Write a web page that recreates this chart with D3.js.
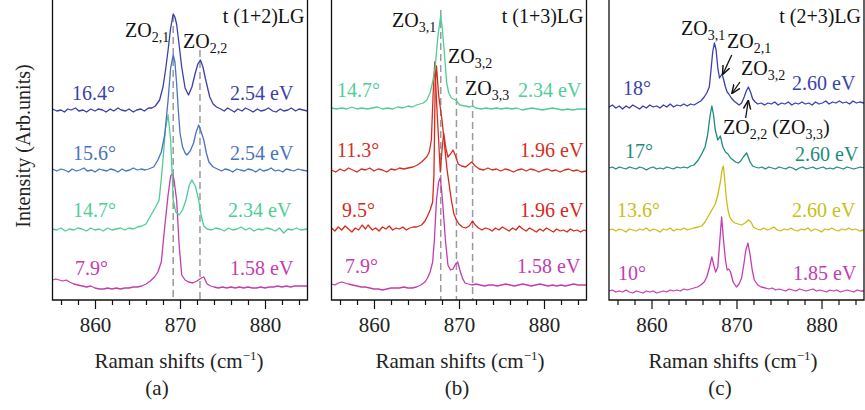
<!DOCTYPE html>
<html>
<head>
<meta charset="utf-8">
<script src="https://cdn.jsdelivr.net/npm/d3@7"></script>
<style>
  body { margin: 0; background: #fff; }
  text { font-family: "Liberation Serif", "Times New Roman", serif; }
</style>
</head>
<body>
<svg id="chart" width="865" height="410"></svg>
<script>
// ---- data (Raman shift in cm^-1, intensity in arbitrary units incl. offset) ----
var shiftDomain = [855, 885];
var majorTicks = [860, 870, 880];
var minorTicks = [856, 858, 862, 864, 866, 868, 872, 874, 876, 878, 882, 884];

var titles = ['t (1+2)LG', 't (1+3)LG', 't (2+3)LG'];
var panelTags = ['(a)', '(b)', '(c)'];

var anglesA = ['16.4°', '15.6°', '14.7°', '7.9°'];
var energiesA = ['2.54 eV', '2.54 eV', '2.34 eV', '1.58 eV'];
var anglesB = ['14.7°', '11.3°', '9.5°', '7.9°'];
var energiesB = ['2.34 eV', '1.96 eV', '1.96 eV', '1.58 eV'];
var anglesC = ['18°', '17°', '13.6°', '10°'];
var energiesC = ['2.60 eV', '2.60 eV', '2.60 eV', '1.85 eV'];

var a164 = [[855,191],[855.5,189],[856,190],[856.4,188],[856.8,191],[857.2,190],[857.7,192],[858.1,189],[858.6,190],[859,188],[859.5,191],[860,189],[860.4,191],[860.9,190],[861.3,188],[861.8,191],[862.2,189],[862.7,192],[863.1,190],[863.6,189],[864,191],[864.5,188],[864.9,190],[865.4,191],[865.8,189],[866.3,192],[866.7,192],[867.1,194],[867.6,200],[868,213],[868.3,230],[868.6,250],[868.9,272],[869.2,286],[869.4,283],[869.6,276],[869.9,255],[870.2,233],[870.6,212],[871,205],[871.4,213],[871.8,227],[872.1,236],[872.4,240],[872.7,233],[873,221],[873.5,203],[873.9,196],[874.3,193],[874.8,191],[875.2,189],[875.6,192],[876,190],[876.4,188],[876.8,191],[877.3,189],[877.7,192],[878.2,190],[878.6,188],[879.1,191],[879.5,189],[880,190],[880.4,192],[880.9,189],[881.3,188],[881.8,191],[882.2,189],[882.7,190],[883.1,192],[883.6,189],[884,191],[884.5,190],[885,189]];
var a156 = [[855,131],[855.5,129],[856,131],[856.4,130],[856.9,128],[857.3,131],[857.8,129],[858.2,130],[858.7,132],[859.1,129],[859.6,130],[860,128],[860.5,131],[860.9,130],[861.4,129],[861.8,131],[862.3,130],[862.7,128],[863.2,131],[863.6,129],[864.1,130],[864.5,132],[865,130],[865.4,131],[865.9,130],[866.3,131],[866.9,133],[867.4,140],[867.8,148],[868.2,165],[868.6,200],[868.9,232],[869.2,245],[869.4,238],[869.6,217],[869.8,190],[870,167],[870.3,153],[870.6,147],[870.8,145],[871.2,149],[871.6,157],[871.9,168],[872.2,175],[872.5,168],[872.8,160],[873.1,147],[873.4,138],[873.9,133],[874.4,131],[874.9,129],[875.3,131],[875.8,130],[876.2,128],[876.7,131],[877.1,130],[877.6,129],[878,131],[878.5,130],[878.9,128],[879.4,131],[879.8,129],[880.3,130],[880.7,132],[881.2,129],[881.6,130],[882.1,128],[882.5,131],[883,130],[883.4,129],[883.9,131],[884.3,130],[885,129]];
var a147 = [[855,71],[855.5,70],[856,72],[856.5,69],[857,71],[857.5,70],[858,72],[858.5,71],[859,69],[859.5,72],[860,70],[860.5,71],[861,69],[861.5,72],[862,70],[862.5,71],[863,72],[863.5,70],[864,72],[864.5,71],[865,73],[865.5,74],[866,76],[866.4,82],[866.8,88],[867.2,94],[867.55,100],[867.9,130],[868.3,172],[868.6,185],[868.9,160],[869.2,100],[869.5,88],[869.9,85],[870.3,90],[870.7,100],[871.1,115],[871.4,120],[871.8,114],[872.2,100],[872.5,84],[872.8,74],[873.2,71],[873.7,70],[874.2,72],[874.7,71],[875.2,69],[875.7,72],[876.2,70],[876.7,71],[877.2,73],[877.7,70],[878.2,72],[878.7,69],[879.2,71],[879.7,70],[880.2,72],[880.7,71],[881.2,69],[881.7,72],[882.2,67],[882.7,71],[883.2,70],[883.7,72],[884.2,70],[885,71]];
var a79 = [[855,20],[855.4,21],[855.8,20],[856.2,19],[856.6,20],[857,18],[857.5,16],[858,15],[858.5,14],[859,13],[859.5,14],[860,12],[860.5,11],[861,11],[861.5,12],[862,11],[862.5,12],[863,11],[863.5,12],[864,12],[864.5,13],[865,13],[865.5,14],[866,16],[866.5,19],[867,23],[867.4,28],[867.8,38],[868.2,73],[868.6,105],[868.9,124],[869.1,126],[869.3,120],[869.6,100],[869.9,55],[870.2,25],[870.6,20],[871,18],[871.5,17],[872,19],[872.5,22],[872.8,23],[873.2,16],[873.6,14],[874,13],[874.5,12],[875,13],[875.5,12],[876,13],[876.5,12],[877,13],[877.5,12],[878,13],[878.5,12],[879,12],[879.5,13],[880,12],[880.5,13],[881,13],[881.5,14],[882,13],[882.5,14],[883,13],[883.5,14],[884,14],[885,14]];

var b147 = [[855,192],[855.6,191],[856.2,192],[856.8,191],[857.4,193],[858,191],[858.6,192],[859.2,191],[859.8,192],[860.4,193],[861,191],[861.6,192],[862.2,191],[862.8,193],[863.4,192],[864,194],[864.5,193],[865,195],[865.4,196],[865.8,197],[866.2,200],[866.6,207],[866.9,218],[867.2,233],[867.5,262],[867.85,285],[868.05,270],[868.25,250],[868.55,217],[868.8,207],[869.1,202],[869.6,200],[870.1,195],[870.7,194],[871.3,193],[871.6,194],[872,192],[872.6,191],[873.2,192],[873.8,191],[874.4,192],[875,191],[875.6,192],[876.2,191],[876.8,192],[877.4,190],[878,191],[878.6,192],[879.2,191],[879.8,190],[880.4,191],[881,192],[881.6,191],[882.2,190],[882.8,191],[883.4,190],[884,191],[885,191]];
var b113 = [[855,130],[855.5,128],[856,131],[856.5,129],[857,132],[857.5,130],[858,128],[858.5,131],[859,130],[859.5,132],[860,129],[860.5,131],[861,130],[861.5,128],[862,131],[862.5,130],[863,132],[863.5,131],[864,132],[864.6,133],[865.1,135],[865.6,138],[866.2,143],[866.5,148],[866.75,160],[866.95,205],[867.15,238],[867.35,200],[867.6,160],[867.8,128],[868.0,150],[868.2,167],[868.45,152],[868.7,143],[869,146],[869.3,150],[869.6,144],[869.9,136],[870.3,134],[870.8,133],[871.2,136],[871.5,138],[871.9,134],[872.4,131],[872.9,130],[873.4,132],[873.9,130],[874.4,131],[874.9,129],[875.4,131],[875.9,130],[876.4,128],[876.9,130],[877.4,131],[877.9,129],[878.4,131],[878.9,130],[879.4,128],[879.9,130],[880.4,131],[880.9,129],[881.4,130],[881.9,128],[882.4,130],[882.9,131],[883.4,129],[883.9,130],[884.4,128],[885,129]];
var b95 = [[855,72],[855.4,69],[855.8,73],[856.2,70],[856.6,74],[857,71],[857.4,68],[857.8,72],[858.2,70],[858.6,75],[859,71],[859.3,75],[859.8,70],[860.2,72],[860.6,69],[861,73],[861.4,71],[861.8,74],[862.2,70],[862.6,72],[863,71],[863.4,73],[863.8,70],[864.2,72],[864.6,73],[865,73],[865.3,74],[865.6,75],[866,79],[866.3,84],[866.6,90],[866.9,98],[867.05,125],[867.2,215],[867.35,234],[867.6,205],[868,180],[868.3,155],[868.6,130],[869.1,100],[869.4,86],[869.7,80],[870,76],[870.4,73],[870.8,72],[871.2,74],[871.6,79],[871.9,75],[872.3,72],[872.7,70],[873.1,72],[873.5,71],[873.9,69],[874.3,72],[874.7,70],[875.1,73],[875.5,71],[875.9,69],[876.3,72],[876.7,70],[877.1,74],[877.5,71],[877.9,69],[878.3,72],[878.7,70],[879.1,68],[879.5,71],[879.9,69],[880.3,72],[880.7,70],[881.1,68],[881.5,71],[881.9,69],[882.3,70],[882.7,68],[883.1,71],[883.5,69],[883.9,70],[884.3,68],[884.7,70],[885,69]];
var b79 = [[855,16],[855.4,15],[855.8,17],[856.2,18],[856.6,17],[857,16],[857.5,15],[858,14],[858.5,13],[859,13],[859.5,12],[860,11],[860.5,11],[861,10],[861.5,11],[862,12],[862.5,12],[863,12],[863.5,13],[864,12],[864.5,12],[865,13],[865.5,15],[866,18],[866.3,22],[866.6,28],[866.9,38],[867.1,60],[867.35,100],[867.6,118],[867.8,122],[867.95,110],[868.1,95],[868.4,60],[868.7,35],[869,30],[869.3,31],[869.6,36],[869.85,38],[870.1,30],[870.4,22],[870.7,17],[871.1,16],[871.5,15],[872,16],[872.5,15],[873,14],[873.5,15],[874,15],[874.5,14],[875,15],[875.5,16],[876,15],[876.5,14],[877,15],[877.5,16],[878,15],[878.5,14],[879,15],[879.5,16],[880,15],[880.5,14],[881,15],[881.5,14],[882,15],[882.5,14],[883,15],[883.5,16],[884,15],[885,15]];

var c18 = [[855,193],[855.4,195],[855.8,192],[856.2,194],[856.6,191],[857,194],[857.4,192],[857.8,195],[858.2,193],[858.6,191],[859,194],[859.4,192],[859.8,195],[860.2,193],[860.6,194],[861,192],[861.4,195],[861.8,193],[862.2,196],[862.6,193],[863,195],[863.4,194],[863.8,196],[864.2,194],[864.6,196],[865,195],[865.4,197],[865.8,199],[866.2,203],[866.5,207],[866.8,213],[867.0,230],[867.2,248],[867.4,257],[867.6,250],[867.8,232],[868,222],[868.15,224],[868.3,226],[868.5,220],[868.7,213],[868.9,208],[869.1,206],[869.4,202],[869.7,199],[870,197],[870.3,195],[870.6,197],[870.9,203],[871.15,209],[871.4,213],[871.65,208],[871.9,201],[872.2,198],[872.5,196],[872.9,197],[873.3,195],[873.7,197],[874.1,196],[874.5,198],[874.9,195],[875.3,197],[875.7,196],[876.1,198],[876.5,195],[876.9,197],[877.3,196],[877.7,198],[878.1,196],[878.5,197],[878.9,195],[879.3,198],[879.7,196],[880.1,197],[880.5,199],[880.9,196],[881.3,198],[881.7,197],[882.1,199],[882.5,197],[882.9,198],[883.3,196],[883.7,199],[884.1,197],[884.5,198],[885,197]];
var c17 = [[855,132],[855.4,133],[855.8,131],[856.2,133],[856.6,132],[857,131],[857.4,133],[857.8,132],[858.2,131],[858.6,133],[859,132],[859.4,130],[859.8,132],[860.2,133],[860.6,131],[861,132],[861.4,131],[861.8,133],[862.2,132],[862.6,131],[863,133],[863.4,132],[863.8,133],[864.2,132],[864.6,134],[865,135],[865.5,140],[865.9,146],[866.3,153],[866.6,165],[866.9,185],[867.1,194],[867.3,185],[867.5,170],[867.8,160],[868.1,164],[868.4,153],[868.7,148],[869,146],[869.3,142],[869.6,140],[869.9,138],[870.2,137],[870.5,139],[870.8,143],[871.2,147],[871.6,138],[871.9,134],[872.2,133],[872.6,132],[873,133],[873.4,131],[873.8,133],[874.2,132],[874.6,131],[875,133],[875.4,132],[875.8,131],[876.2,133],[876.6,132],[877,130],[877.4,132],[877.8,133],[878.2,131],[878.6,132],[879,133],[879.4,131],[879.8,132],[880.2,133],[880.6,131],[881,132],[881.4,131],[881.8,133],[882.2,132],[882.6,131],[883,133],[883.4,132],[883.8,131],[884.2,132],[884.6,133],[885,132]];
var c136 = [[855,70],[855.4,71],[855.8,69],[856.2,71],[856.6,70],[857,68],[857.4,71],[857.8,70],[858.2,69],[858.6,71],[859,70],[859.4,72],[859.8,69],[860.2,71],[860.6,70],[861,68],[861.4,71],[861.8,70],[862.2,72],[862.6,69],[863,71],[863.4,70],[863.8,72],[864.2,70],[864.6,71],[865,72],[865.5,73],[865.9,74],[866.3,78],[866.7,84],[867.1,90],[867.5,96],[867.8,105],[868.1,118],[868.3,130],[868.45,134],[868.6,122],[868.8,102],[869,90],[869.2,83],[869.5,79],[869.8,77],[870.2,76],[870.6,75],[871,77],[871.4,80],[871.7,78],[872,73],[872.4,71],[872.8,70],[873.2,72],[873.6,70],[874,71],[874.4,73],[874.8,70],[875.2,69],[875.6,71],[876,70],[876.4,72],[876.8,70],[877.2,69],[877.6,71],[878,70],[878.4,72],[878.8,69],[879.2,71],[879.6,70],[880,68],[880.4,71],[880.8,70],[881.2,72],[881.6,70],[882,69],[882.4,71],[882.8,70],[883.2,72],[883.6,70],[884,71],[884.5,69],[885,70]];
var c10 = [[855,9],[855.4,10],[855.8,8],[856.2,9],[856.6,8],[857,10],[857.4,8],[857.8,7],[858.2,9],[858.6,8],[859,7],[859.4,9],[859.8,8],[860.2,9],[860.6,7],[861,8],[861.4,9],[861.8,8],[862.2,10],[862.6,9],[863,10],[863.4,9],[863.8,11],[864.2,10],[864.6,11],[865,12],[865.4,13],[865.8,15],[866.2,18],[866.5,23],[866.8,32],[867.1,43],[867.35,34],[867.55,28],[867.8,33],[868,55],[868.25,83],[868.45,62],[868.7,40],[868.9,30],[869.1,31],[869.3,28],[869.6,18],[870,13],[870.3,16],[870.6,22],[870.85,35],[871.1,50],[871.35,57],[871.6,45],[871.85,30],[872.1,20],[872.5,15],[872.9,13],[873.4,12],[873.8,11],[874.2,12],[874.6,10],[875,11],[875.4,10],[875.8,9],[876.2,11],[876.6,10],[877,9],[877.4,11],[877.8,10],[878.2,9],[878.6,10],[879,11],[879.4,9],[879.8,10],[880.2,9],[880.6,8],[881,10],[881.4,9],[881.8,10],[882.2,8],[882.6,9],[883,10],[883.4,9],[883.8,8],[884.2,10],[884.6,9],[885,9]];

// mode positions marked by dashed lines: [shift, top intensity]
var modeLinesA = [[869.2, 285], [872.35, 250]];
var modeLinesB = [[867.85, 290], [869.7, 224], [871.6, 200]];

// ---- layout ----
var panels = [
  { left: 52.5, right: 307.5, title: titles[0], tag: panelTags[0], tagX: 157, xLabelX: 179,
    spectra: [a164, a156, a147, a79], angles: anglesA, energies: energiesA,
    colors: ['#3b3fa9', '#4a72c2', '#4fcd97', '#c43cad'],
    angleX: [72, 73, 73, 75], angleY: [100, 160, 217, 275],
    energyX: [230, 230, 228, 230], energyY: [100, 160, 217, 275],
    modeLines: modeLinesA,
    notes: [{ main: 'ZO', sub: '2,1', x: 125, y: 37 }, { main: 'ZO', sub: '2,2', x: 183, y: 48 }] },
  { left: 331.5, right: 586.5, title: titles[1], tag: panelTags[1], tagX: 457, xLabelX: 460,
    spectra: [b147, b113, b95, b79], angles: anglesB, energies: energiesB,
    colors: ['#4fcd97', '#d42e22', '#d8281c', '#c43cad'],
    angleX: [337, 337, 342, 345], angleY: [97, 157, 217, 273],
    energyX: [518, 520, 520, 517], energyY: [97, 157, 217, 273],
    modeLines: modeLinesB,
    notes: [{ main: 'ZO', sub: '3,1', x: 392, y: 27 }, { main: 'ZO', sub: '3,2', x: 448, y: 63 },
            { main: 'ZO', sub: '3,3', x: 465, y: 95 }] },
  { left: 609, right: 864, title: titles[2], tag: panelTags[2], tagX: 720, xLabelX: 733,
    spectra: [c18, c17, c136, c10], angles: anglesC, energies: energiesC,
    colors: ['#3b3fb0', '#1d8a80', '#c9bf12', '#c43cb3'],
    angleX: [623, 625, 617, 618], angleY: [95, 158, 217, 280],
    energyX: [792, 795, 792, 793], energyY: [90, 161, 217, 280],
    modeLines: [],
    notes: [{ main: 'ZO', sub: '3,1', x: 681, y: 35 }, { main: 'ZO', sub: '2,1', x: 727, y: 48 },
            { main: 'ZO', sub: '3,2', x: 741, y: 75 }, { main: 'ZO', sub: '2,2', tail: ' (ZO', sub2: '3,3', end: ')', x: 723, y: 134 }],
    arrows: [[[869.44, 245], [868.4, 226]], [[870.41, 218], [869.5, 207]], [[871.08, 182], [871.38, 199]]] }
];

var svg = d3.select('#chart');
var axisBottomY = 300;
var y = d3.scaleLinear().domain([0, 300]).range([300, 0]);
var fs = 20;     // in-plot labels
var axFs = 21;   // axis labels
var subFs = 14;

svg.append('defs').append('marker')
  .attr('id', 'arrow')
  .attr('viewBox', '0 0 10 10')
  .attr('refX', 9).attr('refY', 5)
  .attr('markerWidth', 7).attr('markerHeight', 7)
  .attr('orient', 'auto')
  .append('path')
  .attr('d', 'M0,1 L10,5 L0,9')
  .attr('fill', 'none').attr('stroke', '#111').attr('stroke-width', 1.6);

// y axis title
svg.append('text')
  .attr('transform', 'translate(30,146) rotate(-90)')
  .attr('text-anchor', 'middle')
  .style('font-size', '20px')
  .attr('fill', '#222')
  .text('Intensity (Arb.units)');

panels.forEach(function(p) {
  var x = d3.scaleLinear().domain(shiftDomain).range([p.left, p.right]);
  var g = svg.append('g');

  // dashed mode lines
  p.modeLines.forEach(function(m) {
    g.append('line')
      .attr('x1', x(m[0])).attr('x2', x(m[0]))
      .attr('y1', y(m[1])).attr('y2', axisBottomY)
      .attr('stroke', '#9a9a9a').attr('stroke-width', 1.5)
      .attr('stroke-dasharray', '7,4');
  });

  var line = d3.line().x(function(d) { return x(d[0]); }).y(function(d) { return y(d[1]); });
  // draw bottom series first so upper ones sit on top
  p.spectra.slice().reverse().forEach(function(s, i) {
    var k = p.spectra.length - 1 - i;
    g.append('path')
      .datum(s)
      .attr('d', line)
      .attr('fill', 'none')
      .attr('stroke', p.colors[k])
      .attr('stroke-width', 1.3)
      .attr('stroke-linejoin', 'round');
  });

  // angle / energy labels
  p.angles.forEach(function(t, i) {
    g.append('text').attr('x', p.angleX[i]).attr('y', p.angleY[i])
      .attr('fill', p.colors[i]).style('font-size', fs + 'px').text(t);
    g.append('text').attr('x', p.energyX[i]).attr('y', p.energyY[i])
      .attr('fill', p.colors[i]).style('font-size', fs + 'px').text(p.energies[i]);
  });

  // mode annotations
  p.notes.forEach(function(n) {
    var t = g.append('text').attr('x', n.x).attr('y', n.y)
      .attr('fill', '#111').style('font-size', fs + 'px');
    t.append('tspan').text(n.main);
    t.append('tspan').attr('dy', 5).style('font-size', subFs + 'px').text(n.sub);
    if (n.tail) {
      t.append('tspan').attr('dy', -5).text(n.tail);
      t.append('tspan').attr('dy', 5).style('font-size', subFs + 'px').text(n.sub2);
      t.append('tspan').attr('dy', -5).text(n.end);
    }
  });

  (p.arrows || []).forEach(function(a) {
    g.append('line')
      .attr('x1', x(a[0][0])).attr('y1', y(a[0][1]))
      .attr('x2', x(a[1][0])).attr('y2', y(a[1][1]))
      .attr('stroke', '#111').attr('stroke-width', 1.3)
      .attr('marker-end', 'url(#arrow)');
  });

  // title
  g.append('text').attr('x', p.right - 3).attr('y', 23)
    .attr('text-anchor', 'end').attr('fill', '#111')
    .style('font-size', fs + 'px').text(p.title);

  // axis ticks
  var major = g.append('g').attr('transform', 'translate(0,' + axisBottomY + ')')
    .call(d3.axisBottom(x).tickValues(majorTicks).tickSize(9).tickSizeOuter(0).tickPadding(8));
  var minor = g.append('g').attr('transform', 'translate(0,' + axisBottomY + ')')
    .call(d3.axisBottom(x).tickValues(minorTicks).tickSize(5).tickSizeOuter(0).tickFormat(''));
  [major, minor].forEach(function(ax) {
    ax.select('.domain').remove();
    ax.selectAll('line').attr('stroke', '#111').attr('stroke-width', 1.2);
  });
  major.selectAll('text')
    .attr('font-family', null)
    .style('font-size', axFs + 'px')
    .attr('fill', '#222');

  // frame: left, right, bottom
  g.append('path')
    .attr('d', 'M' + p.left + ',0 V' + axisBottomY + ' H' + p.right + ' V0')
    .attr('fill', 'none').attr('stroke', '#111').attr('stroke-width', 1.3);

  // x axis title
  var xl = g.append('text').attr('x', p.xLabelX).attr('y', 368)
    .attr('text-anchor', 'middle').attr('fill', '#222').style('font-size', axFs + 'px');
  xl.append('tspan').text('Raman shifts (cm');
  xl.append('tspan').attr('dy', -8).style('font-size', '13px').text('−1');
  xl.append('tspan').attr('dy', 8).text(')');

  g.append('text').attr('x', p.tagX).attr('y', 395)
    .attr('text-anchor', 'middle').attr('fill', '#222')
    .style('font-size', axFs + 'px').text(p.tag);
});
</script>
</body>
</html>
